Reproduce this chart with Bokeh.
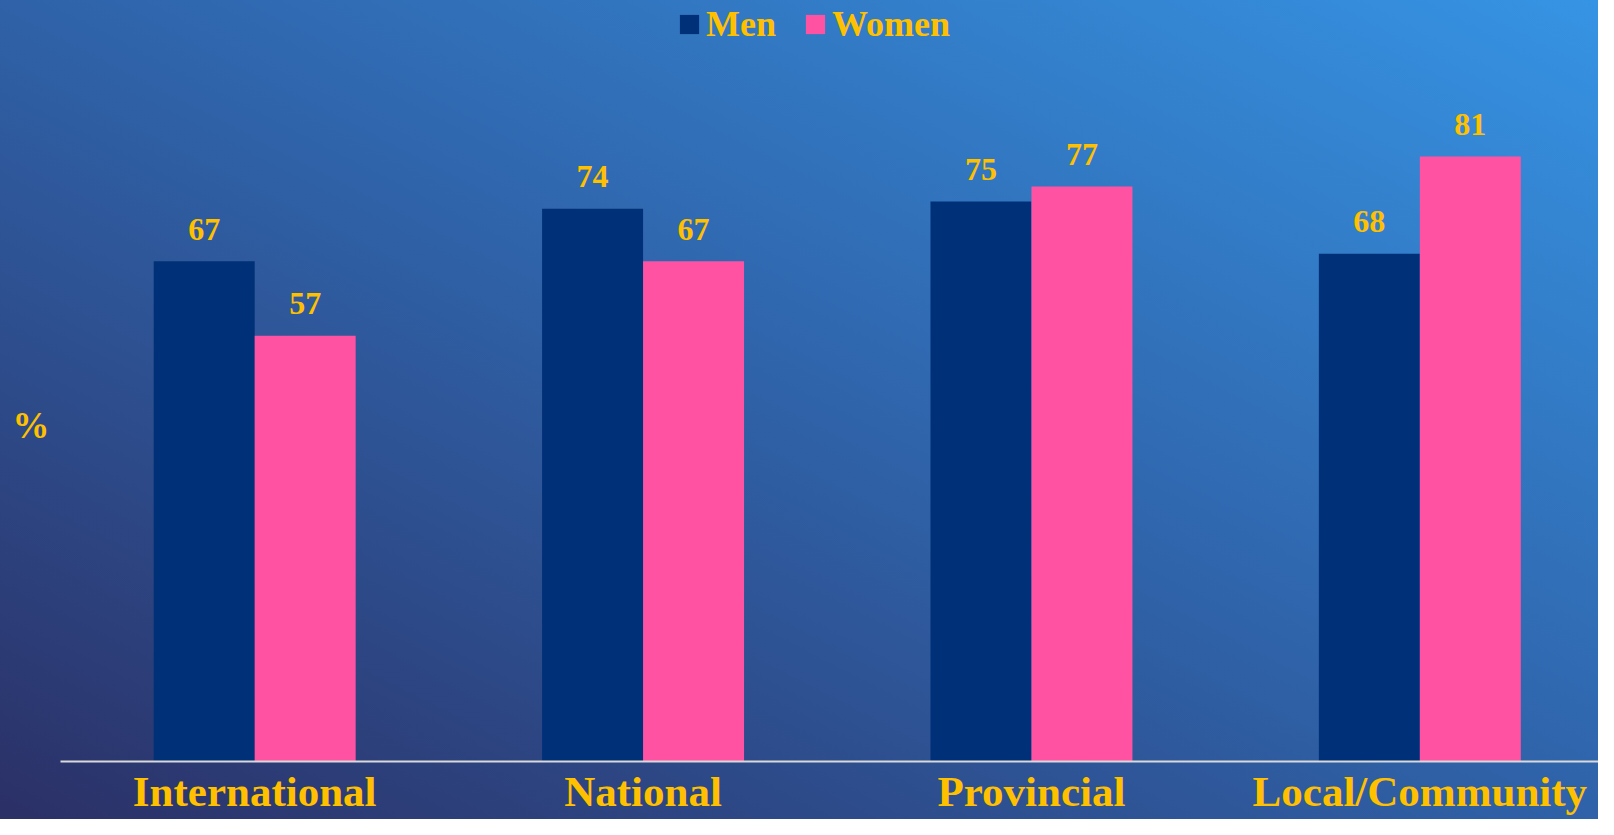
import numpy as np
from bokeh.plotting import figure
from bokeh.models import Range1d, FixedTicker, Legend, LegendItem, ColumnDataSource
from bokeh.core.properties import value
from bokeh.embed import file_html
from bokeh.resources import INLINE

# ---- data ----
categories = ["International", "National", "Provincial", "Local/Community"]
men = [67, 74, 75, 68]
women = [57, 67, 77, 81]
series_names = ["Men", "Women"]
y_label = "%"

# ---- style ----
men_color = "#003078"
women_color = "#ff52a3"
gold = "#ffc000"
font = "Liberation Serif"
y_label_at = 45  # vertical position of the "%" axis title (axis units)

x = np.arange(len(categories), dtype=float)
src = ColumnDataSource(dict(
    xm=x - 0.13, xw=x + 0.13,
    men=men, women=women,
    lm=[str(v) for v in men], lw=[str(v) for v in women],
))

p = figure(width=1598, height=819,
           x_range=Range1d(-0.5, 3.46), y_range=Range1d(0, 101.9),
           output_backend="svg", toolbar_location=None,
           min_border_left=60, min_border_right=0,
           min_border_top=0, min_border_bottom=58)
p.styles = {"background": "linear-gradient(to top right, #2b3066 0%, #2f62a8 50%, #3694e4 100%)"}
p.background_fill_alpha = 0
p.border_fill_alpha = 0
p.outline_line_color = None
p.grid.visible = False

rm = p.vbar(x="xm", top="men", bottom=0, width=0.26, source=src,
            fill_color=men_color, line_color=None)
rw = p.vbar(x="xw", top="women", bottom=0, width=0.26, source=src,
            fill_color=women_color, line_color=None)

for xc, yc, tc in (("xm", "men", "lm"), ("xw", "women", "lw")):
    p.text(x=xc, y=yc, text=tc, source=src,
           text_font=value(font), text_font_style="bold",
           text_font_size="32px", text_color=gold,
           text_align="center", text_baseline="alphabetic", y_offset=-32)

xa = p.xaxis[0]
xa.ticker = FixedTicker(ticks=list(range(len(categories))))
xa.major_label_overrides = {i: c for i, c in enumerate(categories)}
xa.major_label_text_font = font
xa.major_label_text_font_style = "bold"
xa.major_label_text_font_size = "43px"
xa.major_label_text_color = gold
xa.major_tick_line_color = None
xa.minor_tick_line_color = None
xa.major_tick_out = 0
xa.major_tick_in = 0
xa.major_label_standoff = 6
xa.axis_line_color = "#d9d9d9"
xa.axis_line_width = 2

ya = p.yaxis[0]
ya.ticker = FixedTicker(ticks=[y_label_at])
ya.major_label_overrides = {y_label_at: y_label}
ya.major_label_text_font = font
ya.major_label_text_font_style = "bold"
ya.major_label_text_font_size = "37px"
ya.major_label_text_color = gold
ya.major_label_standoff = 11
ya.axis_line_color = None
ya.major_tick_line_color = None
ya.minor_tick_line_color = None
ya.major_tick_out = 0
ya.major_tick_in = 0

legend = Legend(items=[LegendItem(label=series_names[0], renderers=[rm]),
                       LegendItem(label=series_names[1], renderers=[rw])],
                location=(617, 716), orientation="horizontal",
                glyph_width=24, glyph_height=24, label_standoff=5, spacing=27,
                padding=0, margin=0, border_line_color=None,
                background_fill_alpha=0,
                label_text_font=font, label_text_font_style="bold",
                label_text_font_size="36px", label_text_color=gold)
p.add_layout(legend, "center")

open("out.html", "w").write(file_html(p, INLINE))
